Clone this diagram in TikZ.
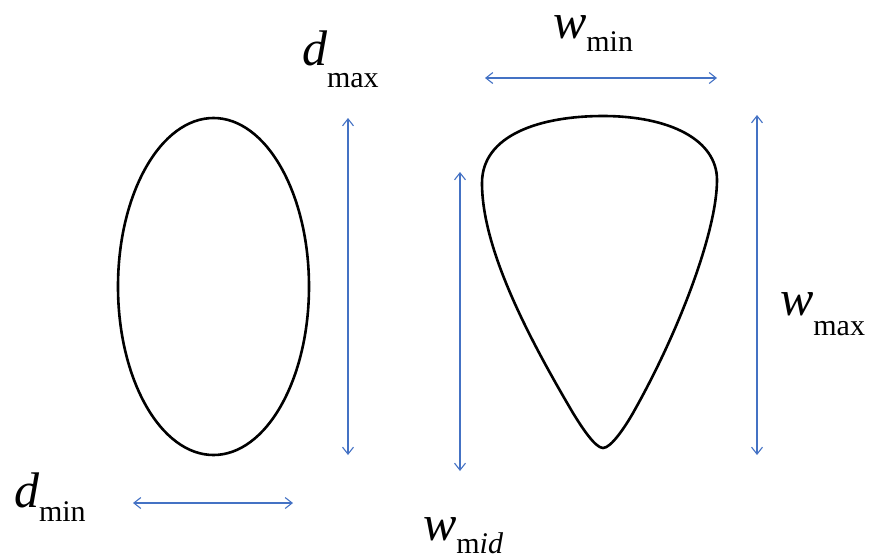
\documentclass[tikz,border=0pt]{standalone}
\usepackage{fontspec}
\setmainfont{Liberation Serif}
\usetikzlibrary{arrows.meta}
\definecolor{dimblue}{RGB}{68,114,196}
\newcommand{\mainsz}{\fontsize{50}{56}\selectfont}
\newcommand{\subsz}{\fontsize{30}{34}\selectfont}
\tikzset{
  dimline/.style={draw=dimblue, line width=1.1pt, {Straight Barb[length=7pt,width=11pt]}-{Straight Barb[length=7pt,width=11pt]}},
  outline/.style={draw=black, line width=2.6pt},
  lbl/.style={anchor=base west, inner sep=0pt, outer sep=0pt, font=\mainsz},
}
\begin{document}
\begin{tikzpicture}[x=1pt,y=-1pt]
\useasboundingbox (0,0) rectangle (870,558);
% shapes
\draw[outline] (213.5,286.5) ellipse [x radius=95.5, y radius=168.5];
\draw[outline] (603,448) .. controls (595,448) and (581,426) .. (573,413)
  .. controls (530,340) and (482,250) .. (482,183)
  .. controls (482,135) and (540,116) .. (603,116)
  .. controls (670,116) and (717,140) .. (717,180)
  .. controls (717,230) and (680,330) .. (633,413)
  .. controls (625,427) and (611,448) .. (603,448) -- cycle;
% dimension end points
\coordinate (dmaxT) at (348,118);
\coordinate (dmaxB) at (348,455);
\coordinate (wminL) at (485,78);
\coordinate (wminR) at (717,78);
\coordinate (wmidT) at (460,172);
\coordinate (wmidB) at (460,471);
\coordinate (wmaxT) at (757,115);
\coordinate (wmaxB) at (757,455);
\coordinate (dminL) at (133,503);
\coordinate (dminR) at (293,503);
\draw[dimline] (dmaxT) -- (dmaxB);
\draw[dimline] (wminL) -- (wminR);
\draw[dimline] (wmidT) -- (wmidB);
\draw[dimline] (wmaxT) -- (wmaxB);
\draw[dimline] (dminL) -- (dminR);
% labels
\node[lbl] (Ldmax) at (302,65) {\itshape d\upshape\raisebox{-22pt}{\subsz max}};
\node[lbl] (Lwmin) at (553,38) {\itshape w\upshape\raisebox{-13pt}{\subsz min}};
\node[lbl] (Lwmax) at (780,315) {\itshape w\upshape\raisebox{-20pt}{\subsz max}};
\node[lbl] (Ldmin) at (14,507) {\itshape d\upshape\raisebox{-14pt}{\subsz min}};
\node[lbl] (Lwmid) at (423,540) {\itshape w\upshape\raisebox{-13pt}{\subsz m\itshape id}};
\end{tikzpicture}
\end{document}
